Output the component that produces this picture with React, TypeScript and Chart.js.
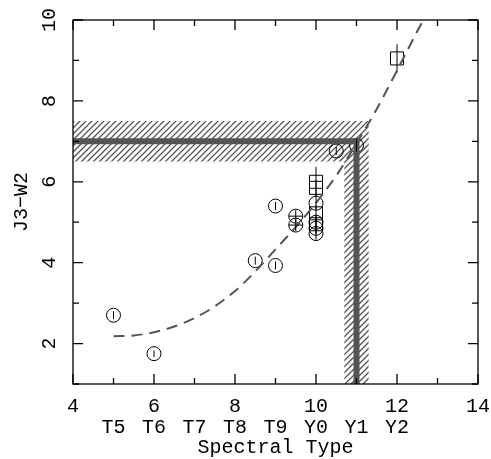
import React, { useEffect, useRef } from "react";
import { Chart, registerables } from "chart.js";

Chart.register(...registerables);

// circles (photometric points)
const circleX = [5, 6, 8.5, 9, 9, 9.5, 9.5, 10, 10, 10, 10, 10.5, 11];
const circleY = [2.7, 1.75, 4.05, 3.93, 5.4, 5.15, 4.93, 5.47, 5.0, 4.85, 4.72, 6.76, 6.9];
const circleErrY = [0.1, 0.08, 0.1, 0.1, 0.1, 0.15, 0.15, 0.15, 0.15, 0.15, 0.15, 0.1, 0.15];
const circleErrX = [0, 0, 0, 0, 0, 0.17, 0.17, 0, 0, 0, 0, 0, 0];

// squares
const squareX = [10, 10, 10, 10, 12];
const squareY = [6.0, 5.85, 5.22, 4.95, 9.05];
const squareErrY = [0.37, 0.2, 0.2, 0.2, 0.35];

// dashed relation
const curveX = [5, 5.5, 6, 6.5, 7, 7.5, 8, 8.5, 9, 9.5, 10, 10.5, 11, 11.5, 12, 12.5, 12.65];
const curveY = [2.18, 2.2, 2.28, 2.42, 2.63, 2.92, 3.3, 3.78, 4.33, 4.88, 5.48, 6.15, 6.95, 7.8, 8.75, 9.72, 10];

// limit lines and their hatched uncertainty
const limitX = 11;
const limitY = 7;
const bandX = [10.7, 11.3];
const bandY = [6.5, 7.5];

const xTicks = [4, 6, 8, 10, 12, 14];
const yTicks = [2, 4, 6, 8, 10];
const typeValues = [5, 6, 7, 8, 9, 10, 11, 12];
const typeLabels = ["T5", "T6", "T7", "T8", "T9", "Y0", "Y1", "Y2"];

const FONT = '"Liberation Mono", "DejaVu Sans Mono", monospace';
const GREY = "#555555";

const plotPlugin = {
  id: "plotDecor",
  beforeDatasetsDraw(chart: any) {
    const { ctx, chartArea: a, scales } = chart;
    const x = scales.x;
    const y = scales.y;
    ctx.save();
    ctx.beginPath();
    const hx0 = x.getPixelForValue(x.min);
    const hx1 = x.getPixelForValue(bandX[1]);
    const hy0 = y.getPixelForValue(bandY[1]);
    const hy1 = y.getPixelForValue(bandY[0]);
    ctx.rect(hx0, hy0, hx1 - hx0, hy1 - hy0);
    const vx0 = x.getPixelForValue(bandX[0]);
    const vy1 = y.getPixelForValue(y.min);
    ctx.rect(vx0, hy0, hx1 - vx0, vy1 - hy0);
    ctx.clip();
    ctx.strokeStyle = GREY;
    ctx.lineWidth = 1.3;
    ctx.beginPath();
    const h = a.bottom - a.top;
    for (let k = -h; k < a.right - a.left + h; k += 6) {
      ctx.moveTo(a.left + k, a.bottom);
      ctx.lineTo(a.left + k + h, a.top);
    }
    ctx.stroke();
    ctx.restore();
  },
  afterDatasetsDraw(chart: any) {
    const { ctx, scales } = chart;
    const x = scales.x;
    const y = scales.y;
    ctx.save();
    ctx.strokeStyle = "#000";
    ctx.lineWidth = 1;
    ctx.beginPath();
    const bar = (xs: number[], ys: number[], ey: number[], ex?: number[]) => {
      xs.forEach((xv, i) => {
        const px = x.getPixelForValue(xv);
        const py = y.getPixelForValue(ys[i]);
        if (ey[i] > 0) {
          ctx.moveTo(px, y.getPixelForValue(ys[i] + ey[i]));
          ctx.lineTo(px, y.getPixelForValue(ys[i] - ey[i]));
        }
        if (ex && ex[i] > 0) {
          ctx.moveTo(x.getPixelForValue(xv - ex[i]), py);
          ctx.lineTo(x.getPixelForValue(xv + ex[i]), py);
        }
      });
    };
    bar(circleX, circleY, circleErrY, circleErrX);
    bar(squareX, squareY, squareErrY);
    ctx.stroke();
    ctx.restore();
  },
  afterDraw(chart: any) {
    const { ctx, chartArea: a, scales } = chart;
    const x = scales.x;
    const y = scales.y;
    ctx.save();
    ctx.strokeStyle = "#000";
    ctx.lineWidth = 1.3;
    ctx.strokeRect(a.left, a.top, a.right - a.left, a.bottom - a.top);
    ctx.beginPath();
    for (let v = x.min; v <= x.max; v += 1) {
      const px = x.getPixelForValue(v);
      const len = v % 2 === 0 ? 10 : 6;
      ctx.moveTo(px, a.bottom);
      ctx.lineTo(px, a.bottom - len);
      ctx.moveTo(px, a.top);
      ctx.lineTo(px, a.top + len);
    }
    for (let v = y.min; v <= y.max; v += 1) {
      const py = y.getPixelForValue(v);
      const len = v % 2 === 0 ? 10 : 6;
      ctx.moveTo(a.left, py);
      ctx.lineTo(a.left + len, py);
      ctx.moveTo(a.right, py);
      ctx.lineTo(a.right - len, py);
    }
    ctx.stroke();

    ctx.fillStyle = "#000";
    ctx.font = `20px ${FONT}`;
    ctx.textAlign = "center";
    ctx.textBaseline = "middle";
    xTicks.forEach((v) => ctx.fillText(String(v), x.getPixelForValue(v), a.bottom + 23));
    typeValues.forEach((v, i) => ctx.fillText(typeLabels[i], x.getPixelForValue(v), a.bottom + 44));
    ctx.fillText("Spectral Type", (a.left + a.right) / 2, a.bottom + 64);
    yTicks.forEach((v) => {
      ctx.save();
      ctx.translate(a.left - 23, y.getPixelForValue(v));
      ctx.rotate(-Math.PI / 2);
      ctx.fillText(String(v), 0, 0);
      ctx.restore();
    });
    ctx.save();
    ctx.translate(22, (a.top + a.bottom) / 2);
    ctx.rotate(-Math.PI / 2);
    ctx.fillText("J3\u2212W2", 0, 0);
    ctx.restore();
    ctx.restore();
  },
};

const App: React.FC = () => {
  const chartRef = useRef<HTMLCanvasElement>(null);
  const chartInstance = useRef<Chart | null>(null);

  useEffect(() => {
    document.body.style.margin = "0";
    if (!chartRef.current) return;
    const ctx = chartRef.current.getContext("2d");
    if (!ctx) return;

    chartInstance.current = new Chart(ctx, {
      type: "scatter",
      data: {
        datasets: [
          {
            type: "line",
            data: [
              { x: 4, y: limitY },
              { x: limitX, y: limitY },
              { x: limitX, y: 1 },
            ],
            borderColor: GREY,
            borderWidth: 6,
            pointRadius: 0,
            fill: false,
          },
          {
            type: "line",
            data: curveX.map((v, i) => ({ x: v, y: curveY[i] })),
            borderColor: GREY,
            borderWidth: 2,
            borderDash: [11, 7],
            pointRadius: 0,
            cubicInterpolationMode: "monotone",
            fill: false,
          },
          {
            data: circleX.map((v, i) => ({ x: v, y: circleY[i] })),
            pointStyle: "circle",
            pointRadius: 7,
            borderColor: "#000",
            borderWidth: 1,
            backgroundColor: "rgba(0,0,0,0)",
          },
          {
            data: squareX.map((v, i) => ({ x: v, y: squareY[i] })),
            pointStyle: "rect",
            pointRadius: 9.2,
            borderColor: "#000",
            borderWidth: 1,
            backgroundColor: "rgba(0,0,0,0)",
          },
        ],
      },
      options: {
        animation: false,
        responsive: true,
        maintainAspectRatio: false,
        layout: { padding: { left: 73, top: 20, right: 13, bottom: 75 } },
        plugins: { legend: { display: false }, tooltip: { enabled: false } },
        scales: {
          x: { type: "linear", min: 4, max: 14, display: false },
          y: { type: "linear", min: 1, max: 10, display: false },
        },
      },
      plugins: [plotPlugin],
    } as any);

    return () => {
      if (chartInstance.current) {
        chartInstance.current.destroy();
        chartInstance.current = null;
      }
    };
  }, []);

  return (
    <div style={{ width: 491, height: 459, position: "relative", background: "#fff" }}>
      <canvas ref={chartRef}></canvas>
    </div>
  );
};

export default App;
